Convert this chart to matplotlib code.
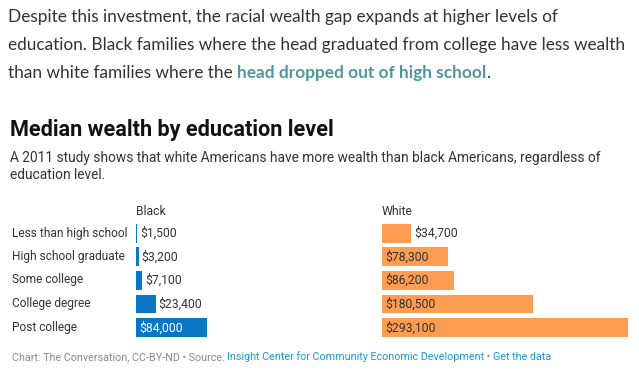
import matplotlib
matplotlib.use("Agg")
import matplotlib.pyplot as plt
from matplotlib.transforms import offset_copy

W, H = 639, 378
categories = ["Less than high school", "High school graduate", "Some college",
              "College degree", "Post college"]
black_values = [1500, 3200, 7100, 23400, 84000]
white_values = [34700, 78300, 86200, 180500, 293100]
black_labels = ["$1,500", "$3,200", "$7,100", "$23,400", "$84,000"]
white_labels = ["$34,700", "$78,300", "$86,200", "$180,500", "$293,100"]

BLUE = "#0a76c6"
ORANGE = "#fe9c52"
TEXT = "#333333"
TEAL = "#4f979c"
LINK = "#1a9ad6"
GRAY = "#8a8a8a"

fig = plt.figure(figsize=(W / 100, H / 100), dpi=100)
fig.patch.set_facecolor("white")

def fx(px):
    return px / W

def fy(py):
    return 1 - py / H

fig.canvas.draw()
r = fig.canvas.get_renderer()

# Intro paragraph
para_font = "Lato"
PS = 12.45
fig.text(fx(8), fy(17), "Despite this investment, the racial wealth gap expands at higher levels of",
         fontsize=PS, family=para_font, color=TEXT, va="center", ha="left")
fig.text(fx(8), fy(45), "education. Black families where the head graduated from college have less wealth",
         fontsize=PS, family=para_font, color=TEXT, va="center", ha="left")
t1 = fig.text(fx(8), fy(73), "than white families where the ",
              fontsize=PS, family=para_font, color=TEXT, va="center", ha="left")
bb = t1.get_window_extent(r)
t2 = fig.text(bb.x1 / W, fy(73), "head dropped out of high school",
              fontsize=PS, family=para_font, color=TEAL, va="center", ha="left",
              fontweight="bold")
bb2 = t2.get_window_extent(r)
fig.text(bb2.x1 / W, fy(73), ".", fontsize=PS, family=para_font, color=TEXT,
         va="center", ha="left")

# Title & subtitle
fig.text(fx(10), fy(130), "Median wealth by education level", fontsize=15.6,
         family="Roboto", fontweight="bold", color="#111111", va="center", ha="left")
fig.text(fx(10), fy(158), "A 2011 study shows that white Americans have more wealth than black Americans, regardless of",
         fontsize=9.9, family="Roboto", color=TEXT, va="center", ha="left")
fig.text(fx(10), fy(175), "education level.",
         fontsize=9.9, family="Roboto", color=TEXT, va="center", ha="left")

# Bars
scale = 246 / 293100  # px per dollar
row_top, row_bot = 221.3, 339.5
bx0 = 136
wx0 = 382
bxmax = 100000
wxmax = 300000
VS = 8.8

ax_b = fig.add_axes([fx(bx0), fy(row_bot), bxmax * scale / W, (row_bot - row_top) / H])
ax_w = fig.add_axes([fx(wx0), fy(row_bot), wxmax * scale / W, (row_bot - row_top) / H])

ypos = list(range(len(categories)))
for ax, vals, labels, color, xmax, inside_color in [
        (ax_b, black_values, black_labels, BLUE, bxmax, "white"),
        (ax_w, white_values, white_labels, ORANGE, wxmax, TEXT)]:
    ax.barh(ypos, vals, height=0.8, color=color, edgecolor="none")
    ax.set_xlim(0, xmax)
    ax.set_ylim(len(categories) - 0.5, -0.5)
    ax.axis("off")
    tr = offset_copy(ax.transData, fig=fig, x=3, y=0, units="dots")
    for y, v, lab in zip(ypos, vals, labels):
        t = ax.text(0, y, lab, fontsize=VS, family="Roboto", va="center", ha="left",
                    transform=tr)
        tw = t.get_window_extent(r).width
        bar_px = v * scale
        if bar_px > tw + 6:
            t.set_color(inside_color)
        else:
            t.set_position((v, y))
            t.set_color(TEXT)

# Column headers
fig.text(fx(bx0), fy(211), "Black", fontsize=VS, family="Roboto", color=TEXT, va="center", ha="left")
fig.text(fx(wx0), fy(211), "White", fontsize=VS, family="Roboto", color=TEXT, va="center", ha="left")

# Row labels
row_centers = [233, 256.7, 280, 303.7, 327.7]
for c, yc in zip(categories, row_centers):
    fig.text(fx(12), fy(yc), c, fontsize=8.55, family="Roboto", color=TEXT, va="center", ha="left")

# Footer
FS = 7.75
f1 = fig.text(fx(12), fy(357), "Chart: The Conversation, CC-BY-ND \u2022 Source: ",
              fontsize=FS, family="Roboto", color=GRAY, va="center", ha="left")
fb = f1.get_window_extent(r)
f2 = fig.text(fb.x1 / W, fy(357), "Insight Center for Community Economic Development",
              fontsize=FS, family="Roboto", color=LINK, va="center", ha="left")
fb2 = f2.get_window_extent(r)
f3 = fig.text(fb2.x1 / W, fy(357), " \u2022 ", fontsize=FS, family="Roboto",
              color=GRAY, va="center", ha="left")
fb3 = f3.get_window_extent(r)
fig.text(fb3.x1 / W, fy(357), "Get the data", fontsize=FS, family="Roboto",
         color=LINK, va="center", ha="left")

fig.savefig("out.png", dpi=100, facecolor="white")
